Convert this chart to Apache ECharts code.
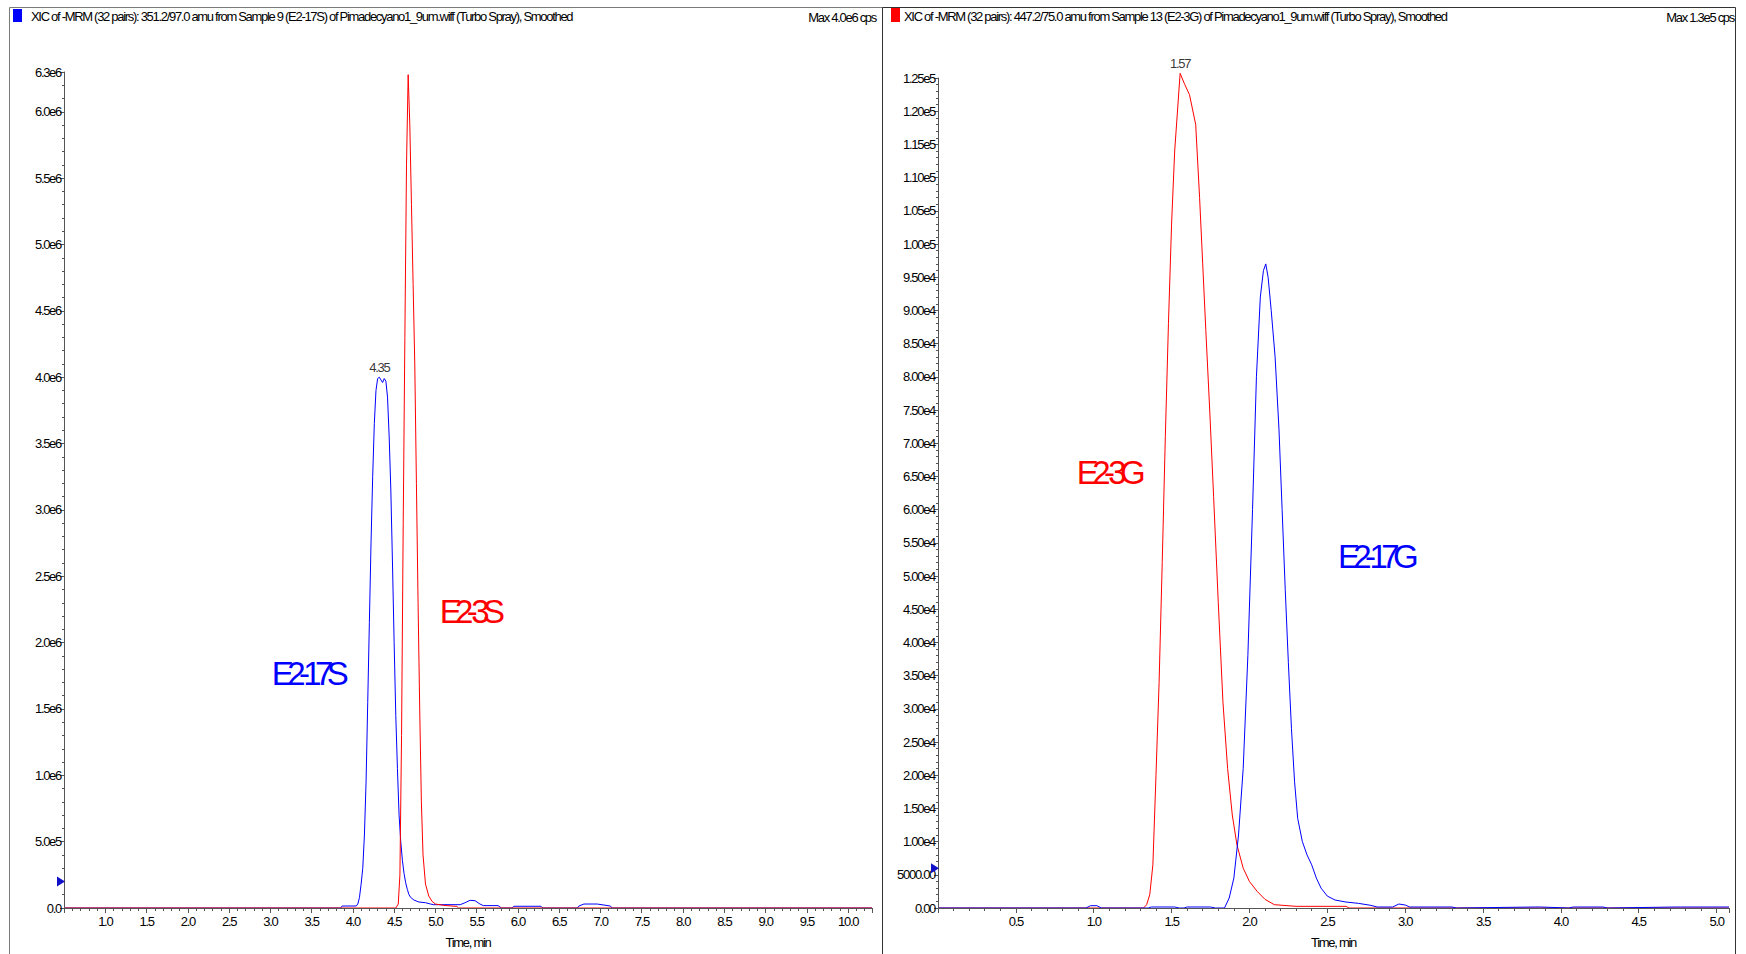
<!DOCTYPE html>
<html>
<head>
<meta charset="utf-8">
<script src="https://cdn.jsdelivr.net/npm/echarts@6/dist/echarts.min.js"></script>
<style>
html, body { margin: 0; padding: 0; background: #fff; }
#chart { width: 1746px; height: 954px; }
/* the instrument software prints its text very tight */
#chart svg text { letter-spacing: -0.1em; }
#chart svg text[style*="33px"], #chart svg text[font-size="33"], #chart svg text[font-size="33px"] { letter-spacing: -0.2em; }
</style>
</head>
<body>
<div id="chart"></div>
<script>
var FONT = "'Liberation Sans', Arial, sans-serif";

// left panel, time (min) and intensity (cps)
var e217sTime = [0.5, 3.85, 3.87, 4.04, 4.06, 4.08, 4.10, 4.12, 4.14, 4.16, 4.18, 4.20, 4.22, 4.24, 4.26, 4.28, 4.30, 4.32, 4.34, 4.36, 4.38, 4.40, 4.42, 4.44, 4.46, 4.48, 4.50, 4.52, 4.54, 4.56, 4.58, 4.60, 4.62, 4.64, 4.66, 4.68, 4.70, 4.74, 4.80, 4.88, 4.94, 4.98, 5.30, 5.36, 5.42, 5.48, 5.54, 5.58, 5.76, 5.80, 5.93, 5.95, 6.28, 6.30, 6.72, 6.74, 6.80, 6.96, 7.12, 7.14, 10.29];
var e217sCps = [0, 0, 15000, 15000, 30000, 80000, 180000, 300000, 550000, 950000, 1550000, 2150000, 2750000, 3250000, 3650000, 3900000, 3990000, 4000000, 3980000, 3960000, 3990000, 3970000, 3850000, 3550000, 3150000, 2600000, 2000000, 1450000, 1050000, 700000, 500000, 360000, 260000, 190000, 140000, 100000, 80000, 60000, 45000, 40000, 30000, 25000, 25000, 40000, 58000, 55000, 30000, 18000, 18000, 0, 0, 13000, 13000, 0, 0, 15000, 30000, 30000, 15000, 0, 0];

var e23sTime = [0.5, 4.52, 4.55, 4.57, 4.59, 4.61, 4.63, 4.65, 4.67, 4.69, 4.71, 4.73, 4.75, 4.77, 4.79, 4.81, 4.83, 4.85, 4.88, 4.92, 4.96, 5.00, 5.10, 5.26, 5.28, 10.29];
var e23sCps = [0, 0, 30000, 250000, 1300000, 2900000, 4300000, 5600000, 6280000, 5900000, 5300000, 4700000, 4100000, 3200000, 2300000, 1500000, 800000, 400000, 180000, 90000, 50000, 30000, 20000, 12000, 0, 0];

// right panel
var e23gTime = [0, 1.32, 1.34, 1.36, 1.38, 1.40, 1.42, 1.44, 1.46, 1.48, 1.50, 1.52, 1.555, 1.585, 1.615, 1.655, 1.68, 1.70, 1.72, 1.745, 1.77, 1.80, 1.83, 1.86, 1.89, 1.92, 1.96, 2.00, 2.05, 2.10, 2.16, 2.30, 2.62, 2.64, 5.08];
var e23gCps = [0, 0, 500, 2000, 6500, 20000, 34000, 52000, 71000, 88000, 103000, 114000, 125700, 124000, 122500, 118000, 107000, 97000, 87000, 75000, 62000, 46000, 31000, 21000, 14000, 9500, 6000, 4000, 2500, 1300, 500, 250, 250, 0, 0];

var e217gTime = [0, 0.95, 0.98, 1.02, 1.05, 1.35, 1.37, 1.52, 1.55, 1.58, 1.60, 1.75, 1.78, 1.84, 1.87, 1.90, 1.93, 1.96, 1.99, 2.02, 2.045, 2.07, 2.09, 2.105, 2.12, 2.14, 2.165, 2.19, 2.21, 2.23, 2.25, 2.27, 2.29, 2.31, 2.34, 2.37, 2.40, 2.43, 2.46, 2.50, 2.55, 2.62, 2.70, 2.78, 2.82, 2.92, 2.96, 3.00, 3.03, 3.30, 3.33, 3.84, 3.87, 4.05, 4.08, 4.27, 4.30, 4.74, 4.77, 5.08];
var e217gCps = [0, 0, 350, 350, 0, 0, 150, 150, 0, 0, 150, 150, 0, 0, 1500, 4500, 11000, 21000, 38000, 60000, 80000, 92000, 96000, 97000, 95000, 90000, 83000, 72000, 60000, 48000, 37000, 27000, 19000, 13500, 10000, 8000, 6500, 4500, 3000, 1800, 1200, 900, 700, 400, 150, 150, 600, 450, 150, 150, 0, 150, 150, 0, 150, 150, 0, 150, 150, 150];

var leftX = [0.5, 10.29];
var rightX = [0, 5.08];
var leftY = [0, 6300000];
var rightY = [0, 125000];
var apexLabels = ['4.35', '1.57'];
var markerLevels = [200000, 6000];   // the little blue arrow on each y axis

var titles = [
    'XIC of -MRM (32 pairs): 351.2/97.0 amu from Sample 9 (E2-17S) of Pimadecyano1_9um.wiff (Turbo Spray), Smoothed',
    'XIC of -MRM (32 pairs): 447.2/75.0 amu from Sample 13 (E2-3G) of Pimadecyano1_9um.wiff (Turbo Spray), Smoothed'
];
var maxTexts = ['Max 4.0e6 cps', 'Max 1.3e5 cps'];

function pairs(ts, vs) {
    return ts.map(function (t, i) { return [t, vs[i]]; });
}

// highest point of a trace, used to hang the retention time label
function apexOf(ts, vs) {
    var k = 0;
    vs.forEach(function (v, i) { if (v > vs[k]) k = i; });
    return [ts[k], vs[k]];
}

var textBase = { fontFamily: FONT, fontSize: 13, color: '#000' };

function xAxisFor(idx, range) {
    return {
        type: 'value', gridIndex: idx, min: range[0], max: range[1], interval: 0.5, z: 4,
        name: 'Time, min', nameLocation: 'middle', nameGap: 28,
        nameTextStyle: textBase,
        axisLine: { onZero: false, lineStyle: { color: '#555', width: 1 } },
        axisTick: { length: 5, lineStyle: { color: '#555' } },
        minorTick: { show: true, splitNumber: 5, length: 3, lineStyle: { color: '#555' } },
        axisLabel: Object.assign({ showMinLabel: false, showMaxLabel: false, margin: 7,
            formatter: function (v) { return v.toFixed(1); } }, textBase),
        splitLine: { show: false }, minorSplitLine: { show: false }
    };
}

function yAxisFor(idx, range, step, fmt) {
    return {
        type: 'value', gridIndex: idx, min: range[0], max: range[1], interval: step, z: 4,
        axisLine: { show: true, lineStyle: { color: '#555', width: 1 } },
        axisTick: { show: true, length: 4, lineStyle: { color: '#555' } },
        minorTick: { show: true, splitNumber: 5, length: 2, lineStyle: { color: '#555' } },
        axisLabel: Object.assign({ margin: 3, showMaxLabel: true, formatter: fmt }, textBase),
        splitLine: { show: false }, minorSplitLine: { show: false }
    };
}

function leftFmt(v) {
    if (v === 0) return '0.0';
    return v.toExponential(1).replace('+', '');
}
function rightFmt(v) {
    if (v === 0) return '0.00';
    if (v < 10000) return v.toFixed(2);
    return v.toExponential(2).replace('+', '');
}

function axisArrow(coord) {
    return { silent: true, data: [{ coord: coord, symbol: 'triangle', symbolRotate: -90,
        symbolSize: [10, 8], symbolOffset: [-3, 0],
        itemStyle: { color: '#1010c8' }, label: { show: false } }] };
}

function line(name, idx, data, color, mark) {
    return {
        name: name, type: 'line', xAxisIndex: idx, yAxisIndex: idx,
        data: data, showSymbol: false, symbol: 'none', clip: false,
        lineStyle: { color: color, width: 1 }, itemStyle: { color: color },
        markPoint: mark, z: 2
    };
}

function apexLabel(idx, point, text) {
    return {
        type: 'scatter', xAxisIndex: idx, yAxisIndex: idx, data: [point],
        symbolSize: 0, clip: false, silent: true, z: 5,
        label: { show: true, position: 'top', distance: 3, formatter: text,
            fontFamily: FONT, fontSize: 13, color: '#000' }
    };
}

var chart = echarts.init(document.getElementById('chart'), null, { renderer: 'svg' });

var titleStyle = { fontFamily: FONT, fontSize: 13, fontWeight: 'normal', color: '#000' };

function bigText(x, y, text, color) {
    return { type: 'text', x: x, y: y, z: 10, style: { text: text, fill: color,
        font: '33px ' + FONT, align: 'center', verticalAlign: 'middle' } };
}

chart.setOption({
    animation: false,
    backgroundColor: '#fff',
    title: [
        { text: titles[0], left: 31, top: 10, padding: 0, textStyle: titleStyle },
        { text: titles[1], left: 904, top: 10, padding: 0, textStyle: titleStyle }
    ],
    grid: [
        { left: 64, top: 72, width: 808, height: 837 },
        { left: 938, top: 78, width: 791, height: 831 }
    ],
    xAxis: [xAxisFor(0, leftX), xAxisFor(1, rightX)],
    yAxis: [
        yAxisFor(0, leftY, 500000, leftFmt),
        yAxisFor(1, rightY, 5000, rightFmt)
    ],
    series: [
        line('E2-17S', 0, pairs(e217sTime, e217sCps), '#0000ff',
            axisArrow([leftX[0], markerLevels[0]])),
        line('E2-3S', 0, pairs(e23sTime, e23sCps), '#ff0000'),
        line('E2-3G', 1, pairs(e23gTime, e23gCps), '#ff0000'),
        line('E2-17G', 1, pairs(e217gTime, e217gCps), '#0000ff',
            axisArrow([rightX[0], markerLevels[1]])),
        apexLabel(0, apexOf(e217sTime, e217sCps), apexLabels[0]),
        apexLabel(1, apexOf(e23gTime, e23gCps), apexLabels[1])
    ],
    graphic: [
        { type: 'rect', shape: { x: 9.5, y: 7.5, width: 873, height: 960 },
            style: { fill: 'none', stroke: '#7a7a7a', lineWidth: 1 } },
        { type: 'rect', shape: { x: 882.5, y: 7.5, width: 853, height: 960 },
            style: { fill: 'none', stroke: '#333', lineWidth: 1 } },
        { type: 'rect', shape: { x: 13, y: 9, width: 9, height: 13 }, style: { fill: '#0000ff' } },
        { type: 'rect', shape: { x: 891, y: 8, width: 9, height: 14 }, style: { fill: '#ff0000' } },
        { type: 'text', x: 876, y: 17, style: { text: maxTexts[0], fill: '#000',
            font: '13px ' + FONT, align: 'right', verticalAlign: 'middle' } },
        { type: 'text', x: 1734, y: 17, style: { text: maxTexts[1], fill: '#000',
            font: '13px ' + FONT, align: 'right', verticalAlign: 'middle' } },
        bigText(307, 673, 'E2-17S', '#0000ff'),
        bigText(469, 611, 'E2-3S', '#ff0000'),
        bigText(1108, 472, 'E2-3G', '#ff0000'),
        bigText(1375, 556, 'E2-17G', '#0000ff')
    ]
});
</script>
</body>
</html>
